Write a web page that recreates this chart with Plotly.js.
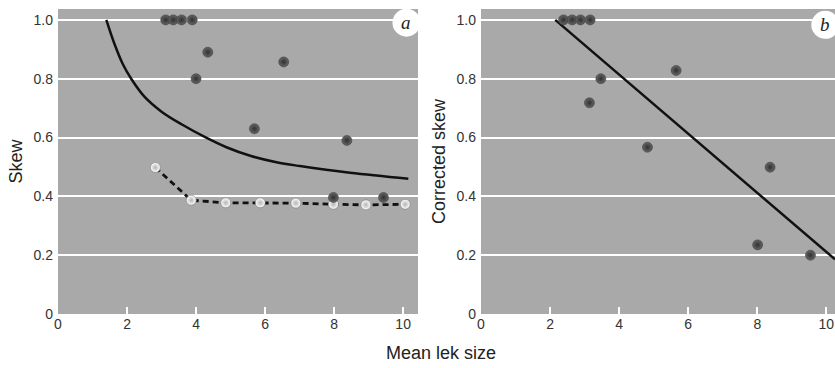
<!DOCTYPE html>
<html><head><meta charset="utf-8">
<script src="https://cdn.plot.ly/plotly-3.0.1.min.js"></script>
<style>html,body{margin:0;padding:0;background:#fff}#c{width:835px;height:368px}</style>
</head><body><div id="c"></div>
<script>
// Panel a: observed skew
const aDarkX = [3.12, 3.34, 3.58, 3.89, 4.34, 4.0, 6.54, 5.69, 8.37, 7.98, 9.43];
const aDarkY = [1.0, 1.0, 1.0, 1.0, 0.89, 0.80, 0.857, 0.63, 0.59, 0.396, 0.396];
const aNullX = [2.82, 3.86, 4.86, 5.86, 6.89, 7.98, 8.92, 10.06];
const aNullY = [0.498, 0.387, 0.378, 0.378, 0.377, 0.373, 0.371, 0.373];
const aCurveX = [1.40, 1.64, 1.88, 2.13, 2.51, 3.0, 3.58, 4.25, 4.88, 5.57, 6.33, 7.01, 8.46, 10.15];
const aCurveY = [1.0, 0.917, 0.849, 0.798, 0.738, 0.688, 0.645, 0.602, 0.567, 0.538, 0.516, 0.503, 0.48, 0.46];
// Panel b: corrected skew
const bX = [2.39, 2.64, 2.88, 3.16, 3.47, 3.14, 5.65, 4.82, 8.37, 8.01, 9.54];
const bY = [1.0, 1.0, 1.0, 1.0, 0.80, 0.718, 0.828, 0.567, 0.499, 0.235, 0.20];
const bLineX = [2.15, 10.25];
const bLineY = [1.0, 0.186];
const xTicks = [0, 2, 4, 6, 8, 10];
const yTicks = [0, 0.2, 0.4, 0.6, 0.8, 1.0];
const yTickText = ['0', '0.2', '0.4', '0.6', '0.8', '1.0'];

const FONT = 'Liberation Sans, Arial, sans-serif';
const darkMarker = {size: 10, color: '#666666', gradient: {type: 'radial', color: '#303030'}, line: {width: 0.5, color: '#333'}};
const lightMarker = {size: 10, color: '#ffffff', gradient: {type: 'radial', color: '#b4b4b4'}, line: {width: 0.6, color: '#777'}};

const traces = [
  {x: aCurveX, y: aCurveY, xaxis: 'x', yaxis: 'y', mode: 'lines', line: {color: '#111', width: 2.5, shape: 'spline', smoothing: 1}},
  {x: aNullX, y: aNullY, xaxis: 'x', yaxis: 'y', mode: 'lines', line: {color: '#111', width: 2.8, dash: '6px,4px'}},
  {x: aNullX, y: aNullY, xaxis: 'x', yaxis: 'y', mode: 'markers', marker: lightMarker},
  {x: aDarkX, y: aDarkY, xaxis: 'x', yaxis: 'y', mode: 'markers', marker: darkMarker},
  {x: bLineX, y: bLineY, xaxis: 'x2', yaxis: 'y2', mode: 'lines', line: {color: '#111', width: 2.5}},
  {x: bX, y: bY, xaxis: 'x2', yaxis: 'y2', mode: 'markers', marker: darkMarker}
];

const xBase = {
  tickvals: xTicks, ticktext: xTicks.map(String), ticks: 'inside', ticklen: 7, tickwidth: 2, tickcolor: '#ffffff',
  showgrid: false, zeroline: false, showline: false, tickfont: {family: FONT, size: 14, color: '#333'}, fixedrange: true
};
const yBase = {
  range: [0, 1.037], tickvals: yTicks, ticktext: yTickText, ticks: '', showgrid: true, gridcolor: '#ffffff', gridwidth: 2,
  zeroline: false, showline: false, tickfont: {family: FONT, size: 14, color: '#333'}, fixedrange: true, ticklabelstandoff: 4
};

const layout = {
  width: 835, height: 368,
  margin: {l: 58, r: 0, t: 9, b: 54},
  paper_bgcolor: '#ffffff', plot_bgcolor: '#a9a9a9',
  showlegend: false,
  xaxis: Object.assign({}, xBase, {domain: [0, 0.4633], range: [0, 10.43], anchor: 'y'}),
  yaxis: Object.assign({}, yBase, {domain: [0, 1], anchor: 'x',
    title: {text: 'Skew', font: {family: FONT, size: 18, color: '#222'}, standoff: 6}}),
  xaxis2: Object.assign({}, xBase, {domain: [0.5444, 1], range: [0, 10.25], anchor: 'y2'}),
  yaxis2: Object.assign({}, yBase, {domain: [0, 1], anchor: 'x2',
    title: {text: 'Corrected skew', font: {family: FONT, size: 18, color: '#222'}, standoff: 6}}),
  shapes: [
    {type: 'circle', xref: 'paper', yref: 'paper', xsizemode: 'pixel', ysizemode: 'pixel', xanchor: 0.4485, yanchor: 0.955,
      x0: -14, x1: 14, y0: -14, y1: 14, fillcolor: '#ffffff', line: {width: 0}},
    {type: 'circle', xref: 'paper', yref: 'paper', xsizemode: 'pixel', ysizemode: 'pixel', xanchor: 0.9875, yanchor: 0.948,
      x0: -14, x1: 14, y0: -14, y1: 14, fillcolor: '#ffffff', line: {width: 0}}
  ],
  annotations: [
    {text: 'a', xref: 'paper', yref: 'paper', x: 0.4485, y: 0.955, showarrow: false, xanchor: 'center', yanchor: 'middle',
      font: {family: 'Liberation Serif, serif', size: 19, color: '#222', style: 'italic'}},
    {text: 'b', xref: 'paper', yref: 'paper', x: 0.9875, y: 0.948, showarrow: false, xanchor: 'center', yanchor: 'middle',
      font: {family: 'Liberation Serif, serif', size: 19, color: '#222', style: 'italic'}},
    {text: 'Mean lek size', xref: 'paper', yref: 'paper', x: 0.493, y: -0.128, showarrow: false, xanchor: 'center', yanchor: 'middle',
      font: {family: FONT, size: 18, color: '#222'}}
  ]
};

Plotly.newPlot('c', traces, layout, {displayModeBar: false, staticPlot: true});
</script></body></html>
